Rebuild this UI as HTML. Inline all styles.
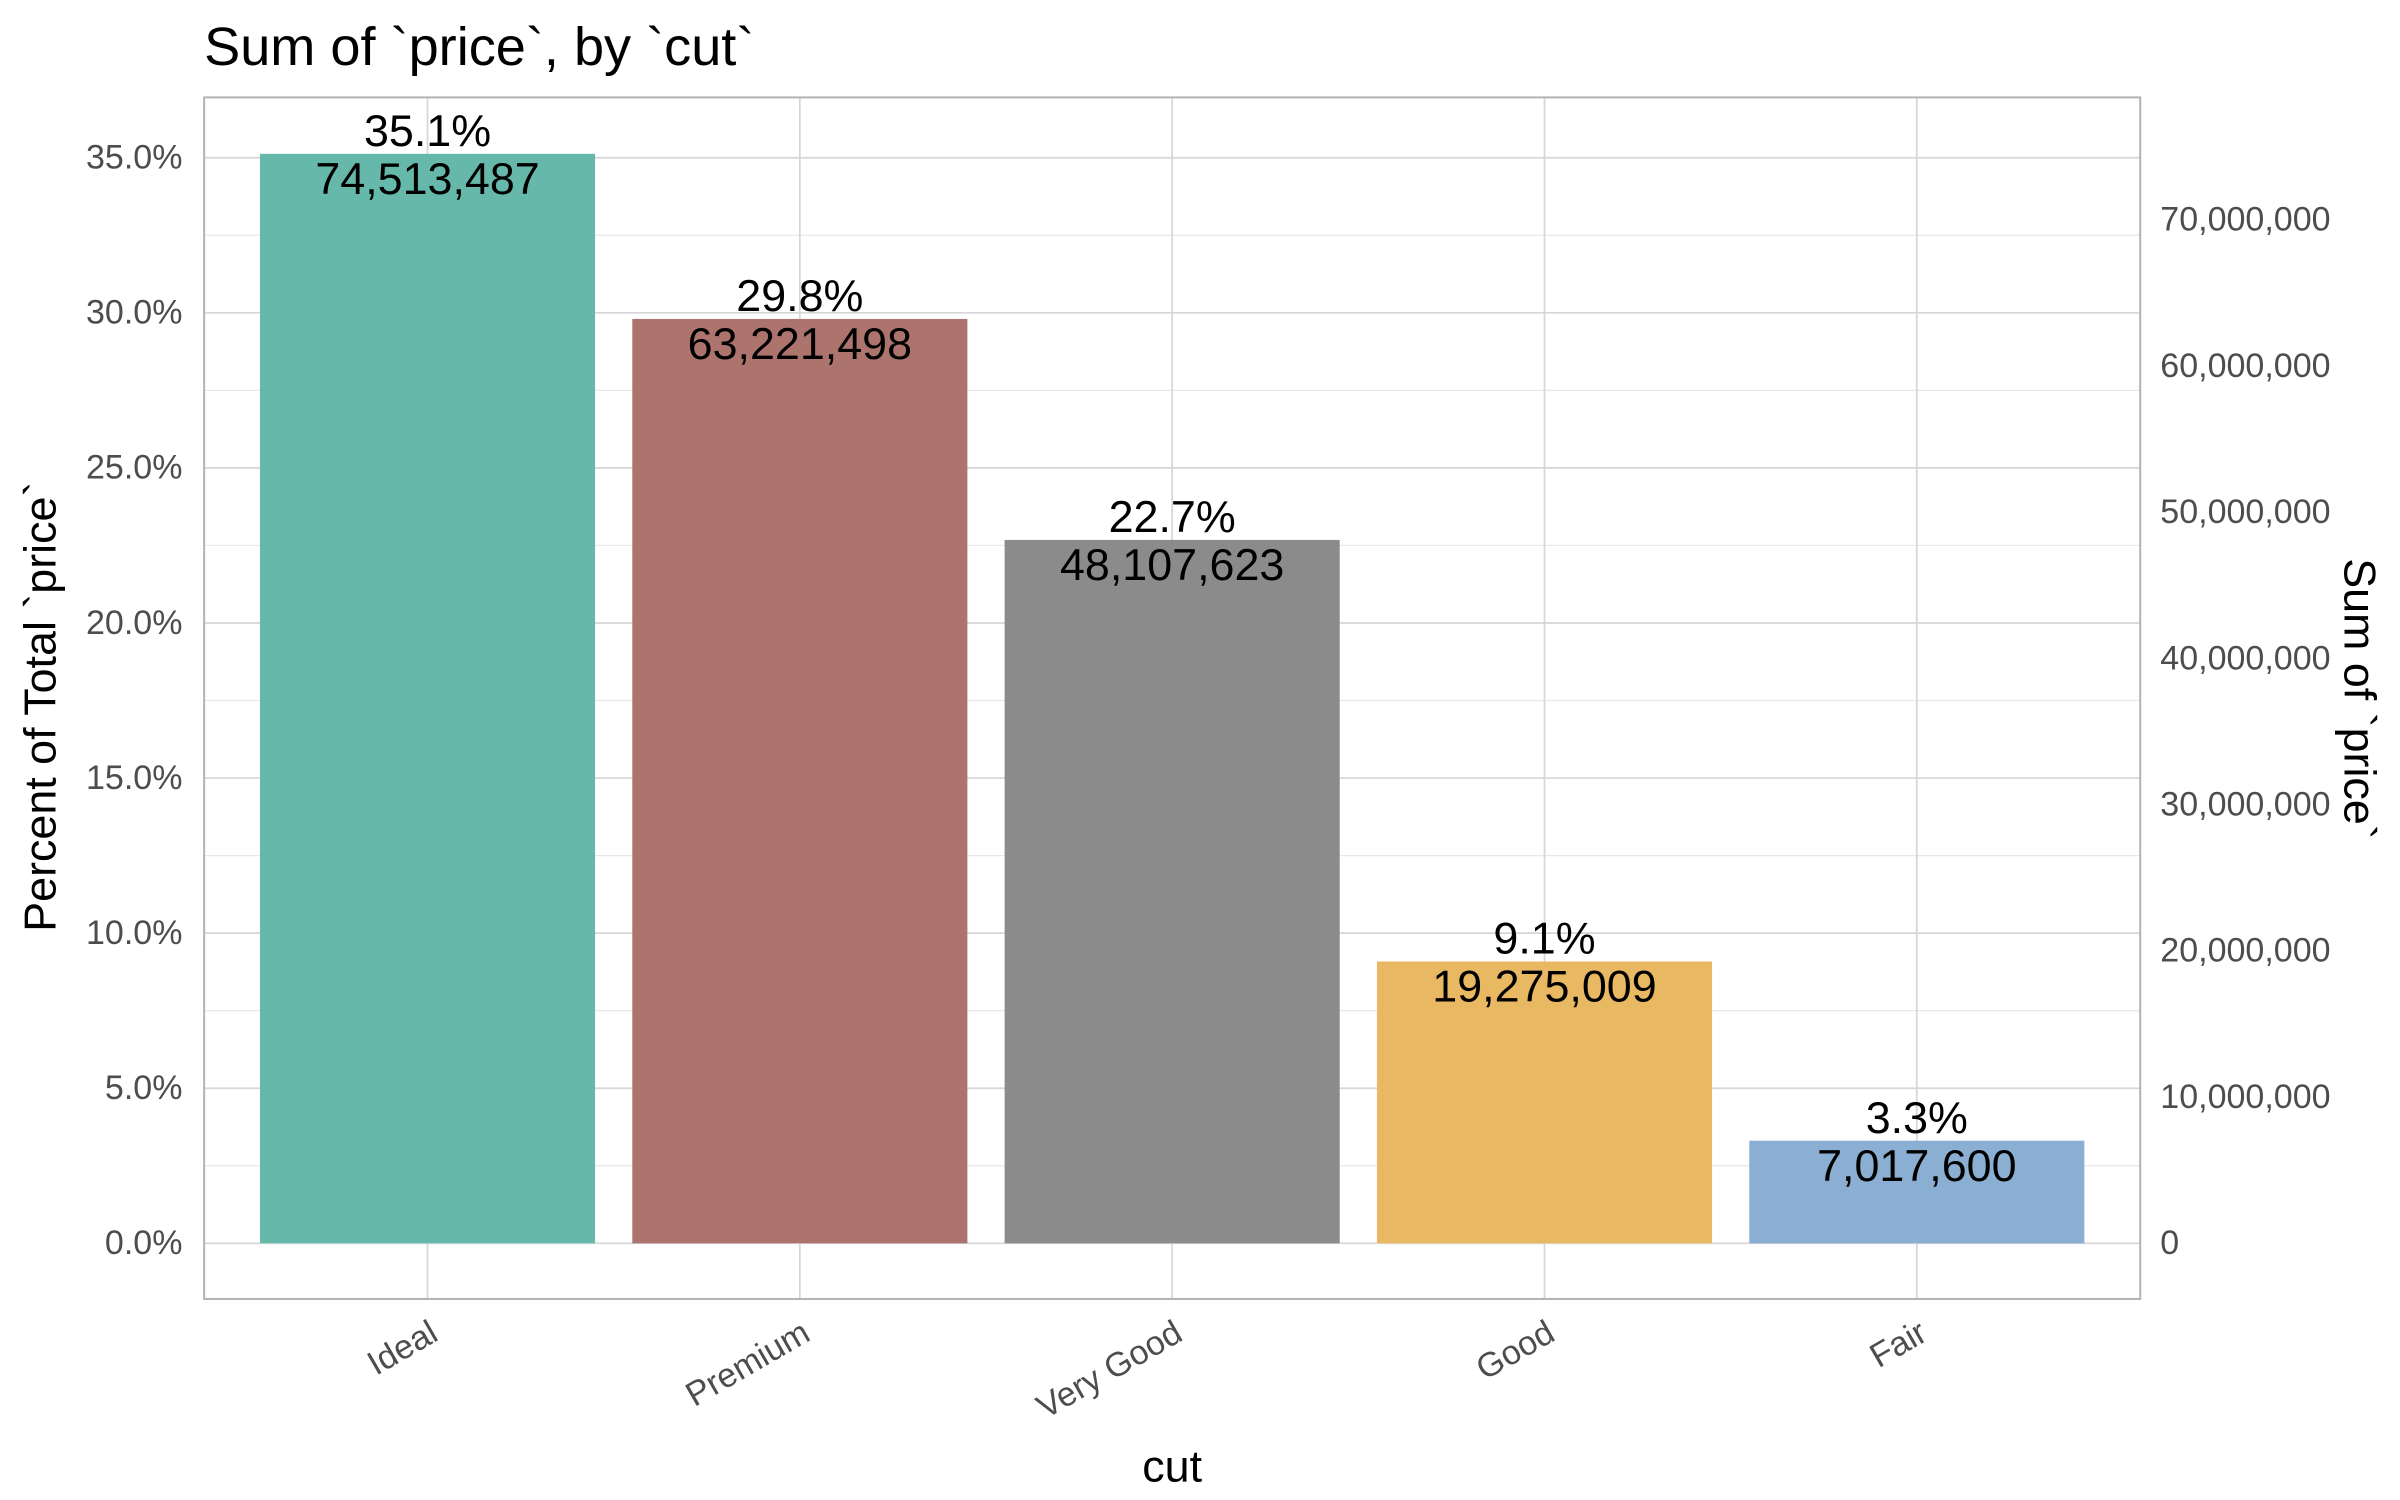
<!DOCTYPE html>
<html><head><meta charset="utf-8">
<style>html,body{margin:0;padding:0;background:#fff}svg{display:block}text{font-family:"Liberation Sans",Arial,sans-serif}</style>
</head><body>
<svg id="chart" width="2400" height="1500" viewBox="0 0 1552 970" preserveAspectRatio="none" xmlns="http://www.w3.org/2000/svg">
<rect width="1552" height="970" fill="#fff"/>
<g id="grid"></g><g id="bars"></g><g id="labels"></g><g id="axes"></g>
<rect x="132" y="63" width="1252" height="777" fill="none" stroke="#b3b3b3" stroke-width="1.3"/>
<text x="132" y="42" font-size="35" fill="#000">Sum of `price`, by `cut`</text>
<text x="758" y="958" font-size="29" text-anchor="middle" fill="#000">cut</text>
<text transform="translate(36,457) rotate(-90)" font-size="29" text-anchor="middle" fill="#000">Percent of Total `price`</text>
<text transform="translate(1516,452) rotate(90)" font-size="29" text-anchor="middle" fill="#000">Sum of `price`</text>
</svg>
<script>
const categories=["Ideal","Premium","Very Good","Good","Fair"];
const values=[74513487,63221498,48107623,19275009,7017600];
const colors=["#66b9aa","#ad746e","#8b8b8b","#e9b862","#8aafd3"];
const pctTicks=[0,5,10,15,20,25,30,35];
const sumTicks=[0,10000000,20000000,30000000,40000000,50000000,60000000,70000000];
const NS="http://www.w3.org/2000/svg";
const total=values.reduce((a,b)=>a+b,0);
const L=132,R=1384,y0=804,pxPerPct=(804-102)/35;
const band=(R-L)/(categories.length-1+1.2);
const xs=i=>L+band*0.6+i*band;
const yp=p=>y0-p*pxPerPct;
const yv=v=>yp(v/total*100);
function mk(tag,attrs,parent){const e=document.createElementNS(NS,tag);for(const k in attrs)e.setAttribute(k,attrs[k]);document.getElementById(parent).appendChild(e);return e;}
for(let p=0;p<=35;p+=2.5){const l=mk('line',{x1:L,x2:R,y1:yp(p),y2:yp(p),stroke:p%5===0?'#d6d6d6':'#e8e8e8','stroke-width':p%5===0?1.1:0.8},'grid');

}
categories.forEach((c,i)=>{const l=mk('line',{x1:xs(i),x2:xs(i),y1:63,y2:840,stroke:'#d6d6d6','stroke-width':1.1},'grid');

});
const bw=band*0.9;
values.forEach((v,i)=>{const top=yv(v);
const b=mk('rect',{x:xs(i)-bw/2,y:top,width:bw,height:y0-top,fill:colors[i]},'bars');


const t1=mk('text',{x:xs(i),y:top-5,'font-size':29,'text-anchor':'middle',fill:'#000'},'labels');
t1.textContent=(v/total*100).toFixed(1)+'%';


const t2=mk('text',{x:xs(i),y:top+26,'font-size':29,'text-anchor':'middle',fill:'#000'},'labels');
t2.textContent=v.toLocaleString('en-US');


const tk=mk('text',{transform:`translate(${xs(i)+8},${866}) rotate(-30)`,'font-size':22,'text-anchor':'end',fill:'#4d4d4d'},'axes');
tk.textContent=categories[i];

});
pctTicks.forEach(p=>{const t=mk('text',{x:118,y:yp(p)+7,'font-size':22,'text-anchor':'end',fill:'#4d4d4d'},'axes');
t.textContent=p.toFixed(1)+'%';

});
sumTicks.forEach(s=>{const t=mk('text',{x:1397,y:yv(s)+7,'font-size':22,fill:'#4d4d4d'},'axes');
t.textContent=s.toLocaleString('en-US');

});
</script>
</body></html>
